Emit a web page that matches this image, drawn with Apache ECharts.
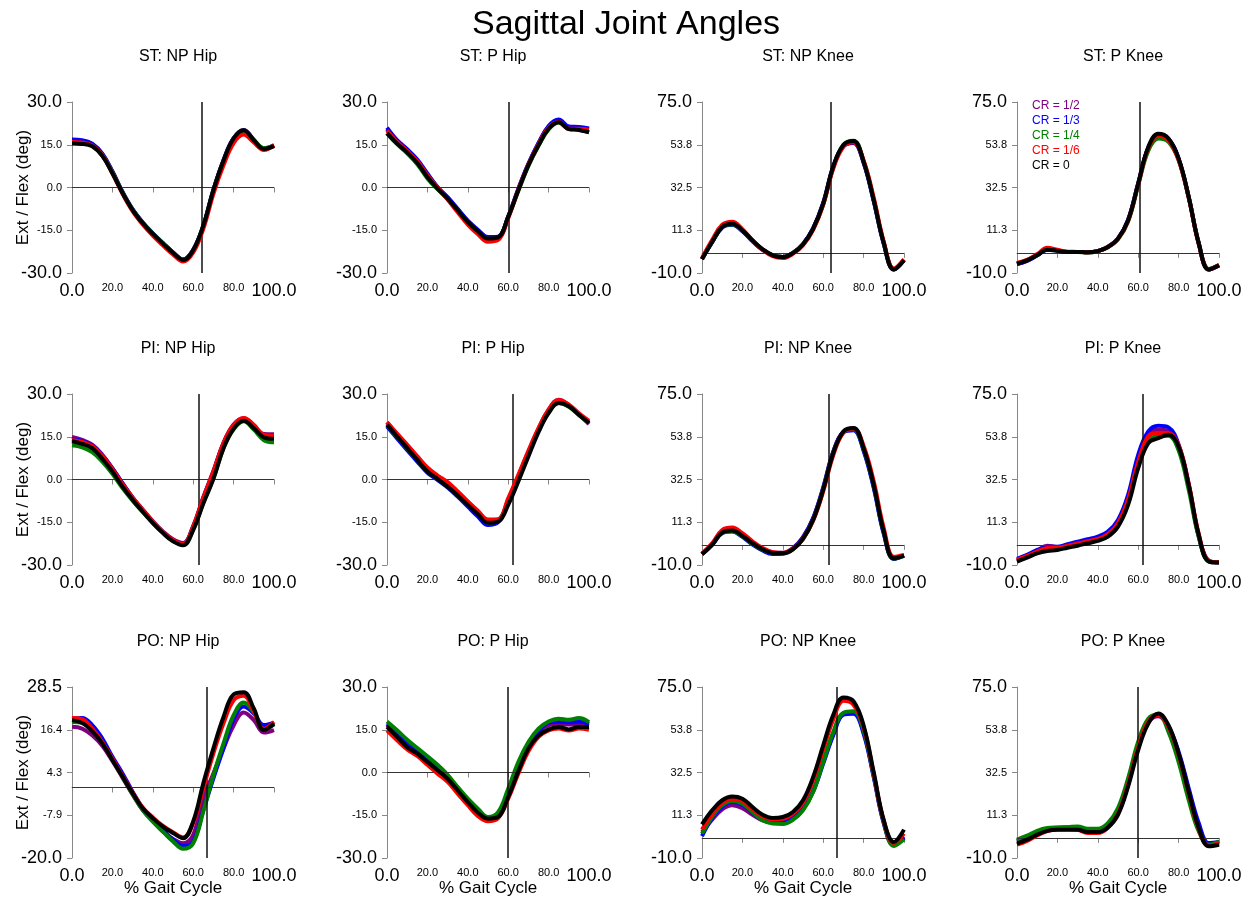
<!DOCTYPE html>
<html>
<head>
<meta charset="utf-8">
<title>Sagittal Joint Angles</title>
<script src="https://cdn.jsdelivr.net/npm/echarts@6/dist/echarts.min.js"></script>
<style>
  html, body { margin: 0; padding: 0; background: #fff; }
  #chart { width: 1252px; height: 900px; }
</style>
</head>
<body>
<div id="chart"></div>
<script>
// % gait cycle sample points
var gaitPct = [0, 5, 10, 15, 20, 25, 30, 35, 40, 45, 50, 55, 60, 65, 70, 75, 80, 85, 90, 95, 100];

var crNames = ['CR = 1/2', 'CR = 1/3', 'CR = 1/4', 'CR = 1/6', 'CR = 0'];
var crColors = ['#800080', '#0000ff', '#008000', '#ff0000', '#000000'];

var panelTitles = ['ST: NP Hip', 'ST: P Hip', 'ST: NP Knee', 'ST: P Knee',
                   'PI: NP Hip', 'PI: P Hip', 'PI: NP Knee', 'PI: P Knee',
                   'PO: NP Hip', 'PO: P Hip', 'PO: NP Knee', 'PO: P Knee'];

// toe-off (vertical line), % gait cycle
var toeOff = [64.0, 60.4, 63.5, 60.6, 62.7, 62.2, 62.6, 62.3, 66.7, 59.9, 66.5, 59.6];

var hipTicks = [-30, -15, 0, 15, 30];
var kneeTicks = [-10, 11.25, 32.5, 53.75, 75];
var poNpHipTicks = [-20, -7.875, 4.25, 16.375, 28.5];

// each panel: [CR 1/2, CR 1/3, CR 1/4, CR 1/6, CR 0]
var stNpHip = [
    [16.5, 16.3, 15.2, 11.8, 5.6, -1.6, -7.7, -12.3, -16.1, -19.5, -22.7, -25.2, -21.8, -13.4, -0.8, 9.6, 17.3, 20.2, 16.8, 13.7, 14.8],
    [16.8, 16.6, 15.4, 11.9, 5.6, -1.6, -7.7, -12.3, -16.1, -19.5, -22.8, -25.3, -21.9, -13.5, -0.9, 9.5, 17.2, 20.0, 16.6, 13.6, 14.7],
    [15.6, 15.5, 14.7, 11.3, 5.2, -1.8, -7.8, -12.4, -16.2, -19.6, -22.8, -25.3, -22.0, -13.5, -1.0, 9.3, 17.1, 19.9, 16.7, 13.8, 14.8],
    [16.0, 15.8, 14.8, 11.3, 5.0, -2.2, -8.3, -13.0, -16.9, -20.3, -23.5, -26.0, -22.8, -14.5, -2.2, 7.8, 15.6, 18.6, 15.8, 13.2, 14.8],
    [15.4, 15.3, 14.5, 11.1, 5.0, -1.9, -7.9, -12.5, -16.3, -19.7, -22.9, -25.4, -22.0, -13.4, -0.9, 9.4, 17.2, 20.1, 16.6, 13.5, 14.5]
];
var stPHip = [
    [20.5, 16.2, 13.1, 9.5, 4.6, 0.1, -3.6, -7.7, -11.8, -15.0, -17.6, -17.4, -10.3, -0.6, 8.2, 15.5, 21.4, 23.6, 21.2, 21.0, 20.5],
    [21.0, 16.6, 13.4, 9.8, 4.9, 0.2, -3.4, -7.5, -11.6, -14.8, -17.4, -17.3, -10.2, -0.5, 8.3, 15.6, 21.6, 23.9, 21.4, 21.2, 20.7],
    [19.0, 15.2, 12.0, 8.2, 3.2, -0.6, -4.0, -8.1, -12.2, -15.4, -18.0, -17.6, -10.4, -1.2, 7.6, 14.6, 20.4, 22.8, 20.5, 20.3, 19.3],
    [20.0, 16.0, 12.8, 9.3, 4.3, 0.0, -4.2, -8.7, -13.0, -16.4, -19.0, -18.4, -10.8, -0.8, 8.0, 15.2, 21.0, 23.0, 20.6, 20.6, 20.3],
    [19.1, 15.4, 12.3, 8.6, 3.7, -0.4, -3.9, -8.0, -12.1, -15.3, -17.9, -17.5, -10.3, -1.0, 7.8, 14.8, 20.6, 22.9, 20.5, 20.2, 19.4]
];
var stNpKnee = [
    [-3.0, 5.4, 12.7, 14.1, 10.9, 5.9, 1.6, -1.2, -2.0, 0.0, 4.3, 12.1, 24.6, 42.8, 53.2, 54.9, 45.0, 26.0, 4.6, -8.2, -3.6],
    [-3.0, 5.3, 12.6, 14.0, 10.8, 5.8, 1.5, -1.2, -2.0, 0.0, 4.4, 12.2, 24.8, 43.0, 53.0, 54.6, 44.8, 25.8, 4.5, -8.2, -3.6],
    [-3.0, 5.5, 12.8, 14.2, 11.0, 6.0, 1.8, -1.1, -2.0, 0.0, 4.2, 11.8, 24.0, 42.5, 53.8, 55.8, 45.6, 26.4, 5.0, -8.0, -3.5],
    [-2.6, 6.4, 14.0, 15.5, 11.8, 6.3, 1.6, -1.6, -2.6, -0.5, 3.8, 11.5, 24.0, 42.0, 52.8, 55.0, 46.0, 27.5, 5.5, -7.8, -3.2],
    [-3.2, 5.4, 12.9, 14.5, 11.2, 6.2, 1.8, -1.2, -2.1, -0.1, 4.2, 12.0, 24.5, 43.0, 53.6, 55.6, 45.4, 26.3, 4.8, -8.3, -3.7]
];
var stPKnee = [
    [-5.5, -3.9, -1.1, 1.7, 1.2, 0.5, 0.5, 0.3, 0.9, 2.9, 7.1, 16.3, 34.5, 52.3, 58.5, 56.6, 46.8, 27.7, 4.6, -8.2, -6.2],
    [-5.6, -4.0, -1.2, 1.6, 1.2, 0.5, 0.5, 0.3, 0.9, 3.0, 7.2, 16.4, 34.6, 52.2, 58.2, 56.4, 46.6, 27.6, 4.6, -8.2, -6.2],
    [-5.2, -3.6, -1.0, 1.8, 1.2, 0.4, 0.4, 0.2, 0.8, 2.8, 6.8, 15.6, 33.6, 50.8, 56.8, 55.2, 46.2, 27.8, 4.8, -8.0, -6.1],
    [-5.0, -3.5, -0.6, 2.5, 1.6, 0.6, 0.5, 0.3, 0.9, 2.9, 7.0, 16.0, 34.0, 52.0, 58.2, 56.0, 46.2, 27.5, 4.4, -8.2, -6.0],
    [-5.4, -3.7, -1.2, 1.6, 1.0, 0.4, 0.5, 0.3, 0.9, 2.9, 7.1, 16.2, 34.4, 52.6, 59.2, 56.9, 47.0, 27.8, 4.6, -8.3, -6.2]
];
var piNpHip = [
    [14.9, 13.9, 12.2, 8.7, 4.0, -1.3, -6.3, -10.5, -14.6, -18.2, -21.0, -22.3, -16.3, -6.2, 3.0, 12.9, 19.3, 21.5, 19.0, 16.0, 15.9],
    [14.2, 13.5, 11.9, 8.5, 3.8, -1.4, -6.4, -10.8, -15.0, -18.5, -21.4, -22.6, -16.6, -6.6, 2.6, 12.5, 19.0, 21.3, 18.8, 15.6, 15.6],
    [12.0, 11.3, 9.6, 6.3, 2.0, -3.0, -7.4, -11.4, -15.2, -18.6, -21.5, -22.9, -17.5, -8.2, 0.4, 11.0, 17.6, 20.4, 17.5, 13.8, 13.1],
    [13.9, 13.2, 11.7, 8.3, 3.6, -1.6, -6.4, -10.6, -14.8, -18.4, -21.3, -22.6, -16.5, -6.4, 2.8, 12.8, 19.2, 21.6, 19.2, 15.7, 15.4],
    [13.4, 12.5, 11.0, 7.3, 2.8, -2.5, -7.1, -11.3, -15.3, -18.8, -21.7, -23.1, -17.8, -8.4, 0.2, 11.0, 17.8, 20.6, 18.0, 14.8, 14.3]
];
var piPHip = [
    [20.0, 15.9, 12.0, 8.0, 4.0, 1.2, -1.1, -4.4, -7.9, -11.2, -14.2, -14.0, -7.2, 1.2, 9.7, 17.8, 24.5, 28.0, 26.2, 23.0, 19.4],
    [18.6, 14.4, 10.3, 6.3, 2.4, -0.1, -2.8, -6.0, -9.5, -13.0, -16.0, -15.0, -8.4, 0.0, 8.8, 17.2, 23.8, 27.2, 25.9, 22.8, 20.0],
    [19.0, 15.0, 10.9, 6.9, 2.9, 0.3, -2.4, -5.5, -8.8, -12.1, -15.1, -14.4, -8.0, 0.2, 8.9, 17.2, 23.6, 26.8, 25.5, 22.6, 19.7],
    [20.2, 16.1, 12.2, 8.1, 4.2, 1.4, -0.9, -4.2, -7.7, -11.0, -14.0, -14.0, -6.6, 1.6, 10.1, 18.0, 24.5, 27.9, 26.3, 23.2, 20.6],
    [19.2, 15.1, 11.0, 6.9, 2.8, 0.2, -2.5, -5.6, -8.9, -12.2, -15.2, -14.8, -8.9, -0.7, 8.1, 16.6, 23.3, 26.8, 25.7, 22.7, 19.8]
];
var piNpKnee = [
    [-4.5, 0.2, 6.2, 7.0, 4.5, 0.8, -2.0, -3.8, -3.9, -1.6, 3.8, 13.2, 28.4, 46.4, 56.2, 57.4, 47.4, 29.0, 6.0, -6.8, -5.2],
    [-4.6, 0.0, 5.8, 6.6, 4.0, 0.2, -2.8, -4.5, -4.4, -2.0, 3.6, 13.2, 28.4, 46.2, 56.0, 57.0, 46.8, 28.4, 5.4, -7.0, -5.4],
    [-4.6, 0.2, 6.0, 6.8, 4.3, 0.6, -2.3, -4.0, -4.2, -2.2, 3.0, 12.4, 27.6, 45.8, 56.0, 57.5, 47.8, 29.6, 6.4, -6.8, -5.4],
    [-4.4, 0.8, 7.4, 8.6, 5.8, 1.8, -1.6, -3.6, -4.0, -2.0, 3.0, 12.0, 26.6, 44.6, 55.8, 57.8, 49.2, 31.6, 8.3, -6.0, -5.0],
    [-4.7, 0.0, 6.1, 7.1, 4.5, 0.8, -2.2, -4.0, -4.2, -2.2, 3.0, 12.4, 27.4, 45.6, 56.4, 58.1, 48.1, 29.9, 6.6, -6.7, -5.3]
];
var piPKnee = [
    [-7.6, -5.6, -3.0, -0.4, -1.0, 0.0, 1.0, 2.2, 3.4, 5.8, 11.4, 23.4, 43.0, 55.0, 57.2, 56.6, 49.2, 29.6, 4.4, -8.0, -8.6],
    [-7.0, -5.0, -2.5, -0.9, -0.9, 0.3, 1.6, 2.8, 4.1, 6.6, 12.4, 24.9, 44.8, 56.4, 59.2, 58.4, 49.8, 29.9, 4.1, -8.0, -8.8],
    [-8.0, -6.0, -3.8, -2.4, -2.0, -1.0, 0.0, 1.2, 2.6, 4.8, 10.2, 21.8, 40.6, 52.4, 54.0, 54.2, 47.0, 27.4, 3.8, -8.2, -8.6],
    [-7.5, -5.5, -3.3, -1.6, -1.5, -0.4, 0.7, 1.8, 3.0, 5.4, 10.8, 22.6, 41.2, 54.0, 55.6, 55.6, 49.6, 30.6, 5.4, -8.0, -8.6],
    [-8.3, -6.3, -4.2, -3.0, -2.5, -1.4, -0.4, 0.8, 2.0, 4.1, 9.1, 19.9, 38.1, 50.6, 53.1, 54.7, 48.9, 29.8, 4.9, -8.3, -8.8]
];
var poNpHip = [
    [17.2, 16.7, 14.8, 11.8, 7.5, 2.8, -2.0, -6.4, -9.4, -12.5, -14.6, -15.8, -13.4, -3.1, 4.0, 11.1, 17.6, 21.3, 19.1, 15.6, 16.3],
    [19.5, 19.7, 17.7, 13.9, 8.7, 4.0, -1.2, -5.9, -9.2, -12.0, -14.8, -16.6, -15.3, -6.4, 2.6, 11.1, 19.5, 23.0, 21.0, 17.7, 18.4],
    [18.6, 18.4, 16.4, 12.8, 7.9, 3.0, -1.9, -6.4, -9.7, -12.5, -15.3, -17.4, -15.8, -6.8, 3.5, 12.5, 20.5, 24.1, 21.3, 16.4, 17.9],
    [19.7, 19.4, 16.7, 12.9, 8.2, 3.3, -1.4, -5.7, -8.5, -10.9, -12.7, -14.2, -10.1, -0.2, 9.7, 18.2, 24.7, 26.0, 21.6, 16.6, 18.6],
    [19.1, 18.3, 16.0, 12.5, 7.8, 3.1, -1.6, -5.9, -8.7, -11.1, -12.9, -14.4, -9.6, 1.2, 11.1, 20.0, 26.4, 27.0, 22.4, 16.3, 18.1]
];
var poPHip = [
    [16.6, 13.5, 10.3, 7.6, 4.6, 1.6, -1.8, -5.9, -10.0, -13.6, -16.0, -15.0, -7.3, 1.8, 9.2, 14.0, 16.6, 17.1, 16.8, 17.0, 16.5],
    [17.1, 14.0, 10.8, 8.0, 5.0, 2.0, -1.4, -5.6, -9.7, -13.2, -15.8, -14.5, -6.4, 2.6, 9.8, 14.6, 17.5, 17.9, 17.6, 17.9, 17.1],
    [17.9, 14.8, 11.5, 8.6, 5.7, 2.7, -0.8, -5.1, -9.2, -12.7, -15.6, -13.9, -5.7, 3.7, 10.7, 15.4, 17.9, 18.9, 18.5, 19.1, 17.7],
    [14.8, 11.3, 8.1, 5.8, 2.7, -0.4, -3.3, -7.4, -11.5, -15.3, -17.1, -16.0, -9.2, -0.4, 7.4, 12.5, 14.8, 15.4, 14.7, 15.4, 15.0],
    [16.0, 12.5, 8.9, 6.6, 3.7, 0.8, -2.2, -6.3, -10.4, -14.1, -16.2, -15.6, -8.6, 0.4, 8.4, 13.0, 15.1, 16.0, 15.1, 16.0, 16.0]
];
var poNpKnee = [
    [2.9, 9.0, 14.2, 16.2, 14.8, 11.5, 8.7, 7.9, 8.0, 10.0, 14.5, 23.5, 38.0, 52.0, 61.8, 62.3, 52.5, 30.8, 7.6, -3.4, 0.6],
    [0.9, 9.8, 15.6, 17.8, 16.5, 12.6, 8.9, 7.6, 7.6, 9.5, 14.2, 23.0, 36.9, 51.0, 61.2, 61.7, 51.8, 30.2, 7.2, -3.6, 0.0],
    [2.1, 10.5, 16.2, 18.3, 17.0, 12.9, 8.7, 7.1, 6.9, 9.0, 13.7, 22.8, 37.7, 52.6, 62.2, 62.9, 53.4, 31.1, 7.9, -4.0, -0.7],
    [4.2, 11.7, 17.3, 19.5, 18.3, 14.2, 10.7, 9.2, 9.5, 12.0, 17.5, 28.6, 44.0, 58.9, 68.2, 66.2, 55.1, 31.9, 8.5, -2.6, 2.1],
    [6.7, 13.7, 18.7, 20.6, 19.5, 15.3, 11.5, 9.9, 10.4, 12.9, 18.7, 30.2, 46.0, 61.2, 69.8, 67.9, 55.9, 32.7, 8.7, -2.1, 4.1]
];
var poPKnee = [
    [-1.8, 0.2, 2.5, 4.4, 5.0, 5.2, 5.1, 3.8, 3.7, 6.0, 12.6, 27.0, 45.0, 57.5, 60.5, 55.0, 42.0, 23.5, 5.5, -3.0, -2.2],
    [-1.5, 0.4, 2.6, 4.2, 4.8, 5.0, 5.0, 3.8, 3.8, 6.2, 13.0, 27.5, 45.5, 58.0, 61.0, 55.2, 42.8, 24.7, 7.3, -2.6, -2.1],
    [-0.9, 1.1, 3.5, 4.9, 5.2, 5.3, 5.7, 4.5, 4.5, 7.3, 14.8, 29.6, 47.8, 59.3, 61.3, 52.7, 37.8, 18.9, 3.2, -3.4, -1.7],
    [-3.4, -1.5, 1.2, 3.4, 4.2, 4.3, 4.0, 2.4, 2.4, 5.0, 12.0, 26.5, 45.0, 57.8, 61.0, 55.2, 41.4, 22.4, 4.4, -3.8, -2.8],
    [-2.9, -0.9, 1.6, 3.5, 4.0, 4.0, 4.0, 2.9, 2.9, 5.2, 11.5, 25.5, 43.6, 56.8, 61.8, 56.0, 42.0, 23.0, 4.9, -4.2, -3.4]
];

var panelData = [stNpHip, stPHip, stNpKnee, stPKnee,
                 piNpHip, piPHip, piNpKnee, piPKnee,
                 poNpHip, poPHip, poNpKnee, poPKnee];
var panelTicks = [hipTicks, hipTicks, kneeTicks, kneeTicks,
                  hipTicks, hipTicks, kneeTicks, kneeTicks,
                  poNpHipTicks, hipTicks, kneeTicks, kneeTicks];

var FONT = '"Liberation Sans", Arial, sans-serif';
var gridLeft = [72, 387, 702, 1017];
var gridTop = [102, 394, 687];
var gridW = 202, gridH = 171;

// ends of each axis drawn in the large font
function tickFormatter(lo, hi) {
    return function (v) {
        var s = v.toFixed(1);
        if (Math.abs(v - lo) < 1e-6 || Math.abs(v - hi) < 1e-6) {
            return '{big|' + s + '}';
        }
        return '{small|' + s + '}';
    };
}

var labelRich = {
    big: { fontSize: 18, color: '#000', fontFamily: FONT },
    small: { fontSize: 11, color: '#000', fontFamily: FONT }
};

var titles = [{
    text: 'Sagittal Joint Angles',
    left: 'center',
    top: 3,
    textStyle: { fontSize: 34, fontWeight: 'normal', color: '#000', fontFamily: FONT }
}];
var grids = [], xAxes = [], yAxes = [], series = [];

for (var p = 0; p < 12; p++) {
    var row = Math.floor(p / 4), col = p % 4;
    var ticks = panelTicks[p];
    var lo = ticks[0], hi = ticks[ticks.length - 1];

    grids.push({ left: gridLeft[col], top: gridTop[row], width: gridW, height: gridH });

    titles.push({
        text: panelTitles[p],
        left: gridLeft[col] + gridW / 2,
        top: gridTop[row] - 58,
        textAlign: 'center',
        textStyle: { fontSize: 16, fontWeight: 'normal', color: '#000', fontFamily: FONT }
    });

    xAxes.push({
        type: 'value',
        gridIndex: p,
        min: 0,
        max: 100,
        interval: 20,
        name: row === 2 ? '% Gait Cycle' : '',
        nameLocation: 'middle',
        nameGap: 22,
        nameMoveOverlap: false,
        nameTextStyle: { fontSize: 17, color: '#000', fontFamily: FONT, verticalAlign: 'top' },
        axisLine: { show: true, lineStyle: { color: '#888', width: 1 } },
        axisTick: { show: true, length: 5, lineStyle: { color: '#888' } },
        axisLabel: { margin: 9, formatter: tickFormatter(0, 100), rich: labelRich },
        splitLine: { show: false }
    });

    yAxes.push({
        type: 'value',
        gridIndex: p,
        min: lo,
        max: hi,
        name: col === 0 ? 'Ext / Flex (deg)' : '',
        nameLocation: 'middle',
        nameGap: 40,
        nameRotate: 90,
        nameMoveOverlap: false,
        nameTextStyle: { fontSize: 17, color: '#000', fontFamily: FONT },
        axisLine: { show: true, lineStyle: { color: '#888', width: 1 } },
        axisTick: { show: true, length: 5, customValues: ticks, lineStyle: { color: '#888' } },
        axisLabel: { margin: 10, customValues: ticks, formatter: tickFormatter(lo, hi), rich: labelRich },
        splitLine: { show: false }
    });

    for (var s = 0; s < 5; s++) {
        var vals = panelData[p][s];
        var pts = gaitPct.map(function (x, i) { return [x, vals[i]]; });
        var ser = {
            name: crNames[s],
            type: 'line',
            xAxisIndex: p,
            yAxisIndex: p,
            data: pts,
            smooth: 0.4,
            showSymbol: false,
            symbol: 'none',
            lineStyle: { color: crColors[s], width: 4 },
            itemStyle: { color: crColors[s] },
            z: 2 + s
        };
        if (s === 0) {
            ser.markLine = {
                silent: true,
                symbol: ['none', 'none'],
                label: { show: false },
                data: [
                    { yAxis: 0, lineStyle: { color: '#333', width: 1, type: 'solid' } },
                    { xAxis: toeOff[p], lineStyle: { color: '#111', width: 1.5, type: 'solid' } }
                ]
            };
        }
        series.push(ser);
    }
}

var chart = echarts.init(document.getElementById('chart'), null, { renderer: 'canvas' });
chart.setOption({
    backgroundColor: '#fff',
    animation: false,
    title: titles,
    legend: {
        orient: 'vertical',
        left: 1022,
        top: 95,
        itemWidth: 0,
        itemHeight: 0,
        itemGap: 3,
        selectedMode: false,
        textStyle: { fontSize: 12, fontFamily: FONT },
        data: crNames.map(function (n, i) {
            return { name: n, icon: 'rect', textStyle: { color: crColors[i] } };
        })
    },
    grid: grids,
    xAxis: xAxes,
    yAxis: yAxes,
    series: series
});
</script>
</body>
</html>
